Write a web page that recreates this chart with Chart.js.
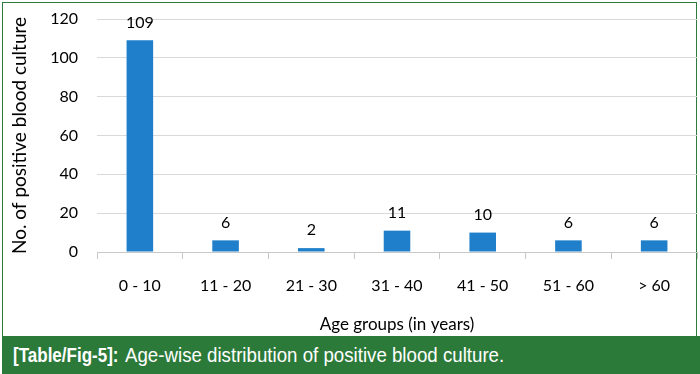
<!DOCTYPE html>
<html lang="en">

<head>
    <meta charset="UTF-8">
    <title>Age-wise distribution of positive blood culture</title>
    <script src="https://cdn.jsdelivr.net/npm/chart.js"></script>
    <style>
        body {
            margin: 0;
            width: 700px;
            height: 374px;
            background-color: #ffffff;
            position: relative;
            overflow: hidden;
        }

        .frame {
            position: absolute;
            left: 2px;
            top: 2px;
            width: 693px;
            height: 340px;
            border: 1.5px solid #2f7a3d;
            border-bottom: none;
        }

        #ageChart {
            position: absolute;
            left: 0;
            top: 0;
        }

        .caption {
            position: absolute;
            left: 2px;
            top: 336px;
            width: 698px;
            height: 38px;
            background-color: #2c7a3a;
            color: #ffffff;
            font-family: 'Liberation Sans', Arial, sans-serif;
            font-size: 21px;
        }

        .caption span {
            position: absolute;
            top: 0;
            line-height: 38px;
            white-space: nowrap;
            transform-origin: left center;
        }

        .caption .tag {
            left: 11px;
            font-weight: bold;
            transform: scaleX(0.81);
        }

        .caption .text {
            left: 123px;
            transform: scaleX(0.89);
        }
    </style>
</head>

<body>
    <div class="frame"></div>
    <canvas id="ageChart" width="700" height="336"></canvas>
    <div class="caption"><span class="tag">[Table/Fig-5]:</span><span class="text">Age-wise distribution of positive blood culture.</span></div>

    <script>
        // chart data
        const ageGroups = ['0 - 10', '11 - 20', '21 - 30', '31 - 40', '41 - 50', '51 - 60', '> 60'];
        const positiveCultures = [109, 6, 2, 11, 10, 6, 6];

        const fontFamily = "Lato, 'Open Sans', sans-serif";

        // value labels over each bar
        const valueLabels = {
            id: 'valueLabels',
            afterDatasetsDraw(chart) {
                const ctx = chart.ctx;
                const meta = chart.getDatasetMeta(0);
                ctx.save();
                ctx.font = '16px ' + fontFamily;
                ctx.fillStyle = '#000000';
                ctx.textAlign = 'center';
                ctx.textBaseline = 'bottom';
                meta.data.forEach((bar, i) => {
                    ctx.fillText(positiveCultures[i], bar.x, bar.y - 10);
                });
                ctx.restore();
            }
        };

        const ctx = document.getElementById('ageChart').getContext('2d');
        new Chart(ctx, {
            type: 'bar',
            data: {
                labels: ageGroups,
                datasets: [{
                    label: 'No. of positive blood culture',
                    data: positiveCultures,
                    backgroundColor: '#1f7fca',
                    barPercentage: 0.31,
                    categoryPercentage: 1.0
                }]
            },
            options: {
                responsive: false,
                animation: false,
                layout: {
                    padding: { left: 0, right: 3, top: 19, bottom: 0 }
                },
                plugins: {
                    legend: { display: false },
                    tooltip: { enabled: false }
                },
                scales: {
                    x: {
                        afterFit(scale) {
                            scale.height = 84;
                            scale.paddingLeft = 0;
                            scale.paddingRight = 0;
                        },
                        grid: {
                            drawOnChartArea: false,
                            drawTicks: true,
                            tickLength: 7,
                            color: '#c8c8c8'
                        },
                        border: { color: '#c8c8c8' },
                        ticks: {
                            color: '#000000',
                            padding: 17,
                            font: { family: fontFamily, size: 16 }
                        },
                        title: {
                            display: true,
                            text: 'Age groups (in years)',
                            color: '#000000',
                            font: { family: fontFamily, size: 17 },
                            padding: { top: 0, bottom: 1 }
                        }
                    },
                    y: {
                        min: 0,
                        max: 120,
                        afterFit(scale) {
                            scale.width = 97;
                            scale.paddingTop = 0;
                            scale.paddingBottom = 0;
                        },
                        grid: {
                            drawTicks: false,
                            color: '#d9d9d9'
                        },
                        border: { display: false },
                        ticks: {
                            stepSize: 20,
                            color: '#000000',
                            padding: 19,
                            font: { family: fontFamily, size: 16 }
                        },
                        title: {
                            display: true,
                            text: 'No. of positive blood culture',
                            color: '#000000',
                            font: { family: fontFamily, size: 19 },
                            padding: { top: 8, bottom: 0 }
                        }
                    }
                }
            },
            plugins: [valueLabels]
        });
    </script>
</body>

</html>
